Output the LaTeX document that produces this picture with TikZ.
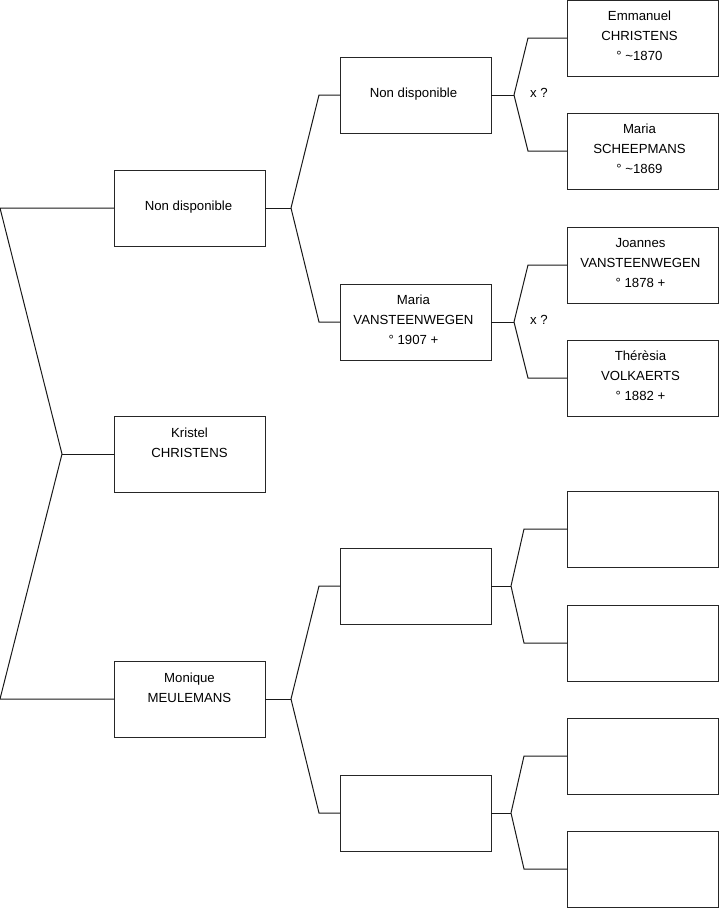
\documentclass[tikz,border=0pt]{standalone}
\usepackage{fontspec}
\setmainfont{Liberation Sans}
\begin{document}
\begin{tikzpicture}[x=0.75pt,y=-0.75pt,
  pbox/.style={draw=black!85,line width=0.75pt,minimum width=113.25pt,minimum height=57pt,inner sep=0pt,outer sep=0pt},
  ptext/.style={align=center,font=\fontsize{9.9}{15}\selectfont,inner sep=0pt},
  conn/.style={draw=black!90,line width=0.75pt}]
\useasboundingbox (0,0) rectangle (719,908);
% generation 1
\node[pbox] (g1a) at (189.5,208) {};
\node[pbox] (g1b) at (189.5,454) {};
\node[pbox] (g1c) at (189.5,699) {};
% generation 2
\node[pbox] (g2a) at (415.5,95) {};
\node[pbox] (g2b) at (415.5,322) {};
\node[pbox] (g2c) at (415.5,586) {};
\node[pbox] (g2d) at (415.5,813) {};
% generation 3
\node[pbox] (g3a) at (642.5,38) {};
\node[pbox] (g3b) at (642.5,151) {};
\node[pbox] (g3c) at (642.5,265) {};
\node[pbox] (g3d) at (642.5,378) {};
\node[pbox] (g3e) at (642.5,529) {};
\node[pbox] (g3f) at (642.5,643) {};
\node[pbox] (g3g) at (642.5,756) {};
\node[pbox] (g3h) at (642.5,869) {};
% texts
\node[ptext] (t1a) at (188.5,207) {Non disponible};
\node[ptext] (t1b) at (189.5,443) {Kristel\\CHRISTENS};
\node[ptext] (t1c) at (189.5,688) {Monique\\MEULEMANS};
\node[ptext] (t2a) at (413.5,94) {Non disponible};
\node[ptext] (t2b) at (413.5,320) {Maria\\VANSTEENWEGEN\\° 1907 +};
\node[ptext] (t3a) at (639.5,36) {Emmanuel\\CHRISTENS\\° \textasciitilde1870};
\node[ptext] (t3b) at (639.5,149) {Maria\\SCHEEPMANS\\° \textasciitilde1869};
\node[ptext] (t3c) at (640.5,263) {Joannes\\VANSTEENWEGEN\\° 1878 +};
\node[ptext] (t3d) at (640.5,376) {Thérèsia\\VOLKAERTS\\° 1882 +};
\node[ptext] (xa) at (539,93) {x ?};
\node[ptext] (xb) at (539,320) {x ?};
% root bracket
\coordinate (ra) at (0,208);
\coordinate (rb) at (62,454);
\coordinate (rc) at (0,699);
\draw[conn] (g1a.west) -- (ra) -- (rb) -- (rc) -- (g1c.west);
\draw[conn] (rb) -- (g1b.west);
% gen1 -> gen2
\coordinate (ja) at (291,208);
\coordinate (ja1) at (319,95);
\coordinate (ja2) at (319,322);
\draw[conn] (g1a.east) -- (ja);
\draw[conn] (ja) -- (ja1) -- (g2a.west);
\draw[conn] (ja) -- (ja2) -- (g2b.west);
\coordinate (jc) at (291,699);
\coordinate (jc1) at (319,586);
\coordinate (jc2) at (319,813);
\draw[conn] (g1c.east) -- (jc);
\draw[conn] (jc) -- (jc1) -- (g2c.west);
\draw[conn] (jc) -- (jc2) -- (g2d.west);
% gen2 -> gen3
\coordinate (ka) at (514,95);
\coordinate (ka1) at (528,38);
\coordinate (ka2) at (528,151);
\draw[conn] (g2a.east) -- (ka);
\draw[conn] (ka) -- (ka1) -- (g3a.west);
\draw[conn] (ka) -- (ka2) -- (g3b.west);
\coordinate (kb) at (514,322);
\coordinate (kb1) at (528,265);
\coordinate (kb2) at (528,378);
\draw[conn] (g2b.east) -- (kb);
\draw[conn] (kb) -- (kb1) -- (g3c.west);
\draw[conn] (kb) -- (kb2) -- (g3d.west);
\coordinate (kc) at (511,586);
\coordinate (kc1) at (524,529);
\coordinate (kc2) at (524,643);
\draw[conn] (g2c.east) -- (kc);
\draw[conn] (kc) -- (kc1) -- (g3e.west);
\draw[conn] (kc) -- (kc2) -- (g3f.west);
\coordinate (kd) at (511,813);
\coordinate (kd1) at (524,756);
\coordinate (kd2) at (524,869);
\draw[conn] (g2d.east) -- (kd);
\draw[conn] (kd) -- (kd1) -- (g3g.west);
\draw[conn] (kd) -- (kd2) -- (g3h.west);
\end{tikzpicture}
\end{document}
